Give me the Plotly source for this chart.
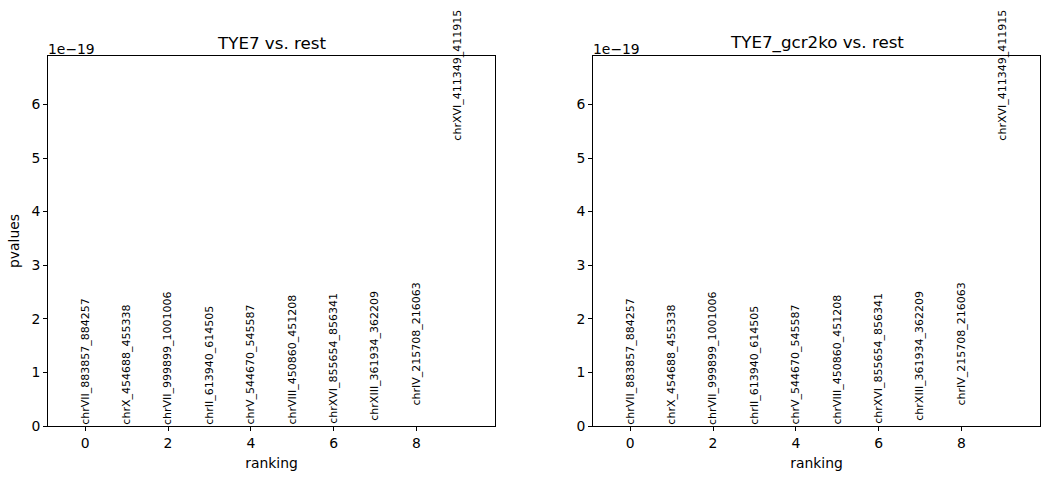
import plotly.graph_objects as go

# ---- data ----
groups = ["TYE7", "TYE7_gcr2ko"]
ranking = [0, 1, 2, 3, 4, 5, 6, 7, 8, 9]
gene_names = [
    "chrVII_883857_884257",
    "chrX_454688_455338",
    "chrVII_999899_1001006",
    "chrII_613940_614505",
    "chrV_544670_545587",
    "chrVIII_450860_451208",
    "chrXVI_855654_856341",
    "chrXIII_361934_362209",
    "chrIV_215708_216063",
    "chrXVI_411349_411915",
]
pvalues_tye7 = [1.2e-23, 3.5e-23, 8.0e-23, 1.5e-22, 4.0e-22, 1.1e-21, 2.5e-21, 8.0e-21, 3.6e-20, 5.31e-19]
pvalues_gcr2ko = [1.2e-23, 3.5e-23, 8.0e-23, 1.5e-22, 4.0e-22, 1.1e-21, 2.5e-21, 8.0e-21, 3.6e-20, 5.31e-19]
ytick_vals = [0, 1e-19, 2e-19, 3e-19, 4e-19, 5e-19, 6e-19]
ytick_text = ["0", "1", "2", "3", "4", "5", "6"]
xtick_vals = [0, 2, 4, 6, 8]
exponent_label = "1e\u221219"

W, H = 1050, 479
FONT = "DejaVu Sans"

# axes boxes in pixels (left, right, top, bottom)
boxes = [(48, 495, 56, 426), (593, 1040, 56, 426)]
series = [pvalues_tye7, pvalues_gcr2ko]

fig = go.Figure()
annotations = []
for i, (grp, vals, box) in enumerate(zip(groups, series, boxes)):
    l, r, t, b = box
    xa = "xaxis" if i == 0 else "xaxis2"
    ya = "yaxis" if i == 0 else "yaxis2"
    xref = "x" if i == 0 else "x2"
    yref = "y" if i == 0 else "y2"
    fig.add_trace(go.Scatter(x=ranking, y=vals, mode="markers",
                             marker=dict(size=1, opacity=0),
                             hoverinfo="skip", showlegend=False,
                             xaxis=xref, yaxis=yref))
    ymin = min(vals)
    ymax = max(vals)
    ymax = ymax + 0.3 * (ymax - ymin)
    axis_common = dict(showline=True, linecolor="black", linewidth=1, mirror=True,
                       ticks="outside", ticklen=4, tickwidth=1, tickcolor="black",
                       showgrid=False, zeroline=False, automargin=False,
                       tickfont=dict(family=FONT, size=13.9, color="black"))
    fig.update_layout(**{
        xa: dict(domain=[l / W, r / W], range=[-0.9, 9.9], anchor=yref,
                 tickmode="array", tickvals=xtick_vals,
                 title=dict(text="ranking", font=dict(family=FONT, size=13.9, color="black"), standoff=8),
                 **axis_common),
        ya: dict(domain=[1 - b / H, 1 - t / H], range=[ymin, ymax], anchor=xref,
                 tickmode="array", tickvals=ytick_vals, ticktext=ytick_text,
                 title=dict(text="pvalues" if i == 0 else "", font=dict(family=FONT, size=13.9, color="black"), standoff=8),
                 **axis_common),
    })
    # gene labels
    for x, y, name in zip(ranking, vals, gene_names):
        annotations.append(dict(x=x, y=y, xref=xref, yref=yref, text=name,
                                textangle=-90, showarrow=False,
                                xanchor="center", yanchor="bottom",
                                borderpad=0,
                                font=dict(family=FONT, size=11, color="black")))
    # title
    annotations.append(dict(x=(l + r) / 2 / W, y=1 - t / H, xref="paper", yref="paper",
                            text=f"{grp} vs. rest", showarrow=False,
                            xanchor="center", yanchor="bottom", yshift=1,
                            font=dict(family=FONT, size=16.7, color="black")))
    # offset label
    annotations.append(dict(x=l / W, y=1 - t / H, xref="paper", yref="paper",
                            text=exponent_label, showarrow=False,
                            xanchor="left", yanchor="bottom", yshift=-3, xshift=-2,
                            font=dict(family=FONT, size=13.9, color="black")))

fig.update_layout(width=W, height=H, margin=dict(l=0, r=0, t=0, b=0),
                  paper_bgcolor="white", plot_bgcolor="white",
                  font=dict(family=FONT, color="black"),
                  annotations=annotations, showlegend=False)

fig.write_html("out.html")
